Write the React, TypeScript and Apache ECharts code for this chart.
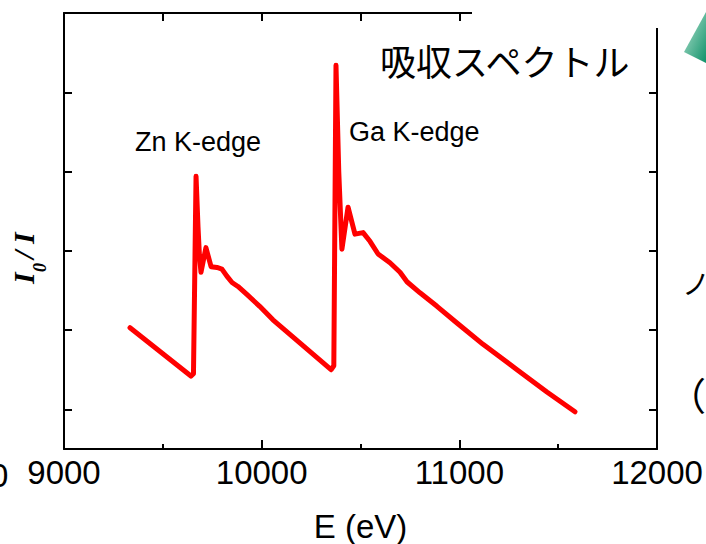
import React, { useEffect, useRef } from "react";
import * as echarts from "echarts";

// X-ray absorption spectrum (Zn K-edge and Ga K-edge)
const energy = [
  9334, 9642, 9655, 9668, 9678, 9685, 9693, 9718, 9744, 9774, 9799, 9824, 9850, 9880, 9925,
  9990, 10057, 10351, 10365, 10376, 10390, 10406, 10437, 10472, 10513, 10548, 10589, 10649,
  10700, 10735, 10801, 10887, 10988, 11120, 11292, 11443, 11585,
];
const intensity = [
  2.03, 1.42, 1.45, 3.94, 3.3, 2.95, 2.73, 3.04, 2.8, 2.79, 2.77, 2.68, 2.6, 2.55, 2.45,
  2.3, 2.13, 1.5, 1.55, 5.34, 4.0, 3.02, 3.55, 3.21, 3.23, 3.12, 2.96, 2.85,
  2.73, 2.61, 2.47, 2.3, 2.09, 1.82, 1.5, 1.22, 0.97,
];
const xTicks = [9000, 10000, 11000, 12000];
const yTickValues = [1, 2, 3, 4, 5];
const annotations = ["Zn K-edge", "Ga K-edge"];
const titleText = "吸収スペクトル";
const xName = "E (eV)";

export default function App() {
  const ref = useRef<HTMLDivElement>(null);
  useEffect(() => {
    if (!ref.current) return;
    const chart = echarts.init(ref.current, null, { renderer: "svg" });
    const font = "Liberation Sans, Arial, sans-serif";
    const cjk = "Noto Sans CJK JP";
    const serif = "Liberation Serif, Times New Roman, serif";
    const data = energy.map((e, i) => [e, intensity[i]]);
    const black = { color: "#000", width: 2 };
    chart.setOption({
      animation: false,
      backgroundColor: "#ffffff",
      grid: { left: 64, right: 49, top: 13, bottom: 95, containLabel: false, outerBoundsMode: "none" },
      xAxis: [
        {
          type: "value",
          min: xTicks[0],
          max: xTicks[xTicks.length - 1],
          interval: 1000,
          position: "bottom",
          name: xName,
          nameLocation: "middle",
          nameGap: 61,
          nameTextStyle: { fontSize: 33, color: "#000", fontFamily: font },
          axisLine: { show: true, onZero: false, lineStyle: black },
          axisTick: { show: true, inside: true, length: 9, lineStyle: black },
          minorTick: { show: true, splitNumber: 2, length: 5, lineStyle: black },
          axisLabel: { fontSize: 33, color: "#000", fontFamily: font, margin: 7, formatter: (v: number) => String(v) },
          splitLine: { show: false },
        },
        {
          type: "value",
          min: xTicks[0],
          max: xTicks[xTicks.length - 1],
          interval: 500,
          position: "top",
          axisLine: { show: true, onZero: false, lineStyle: black },
          axisTick: { show: true, inside: true, length: 8, lineStyle: black },
          axisLabel: { show: false },
          splitLine: { show: false },
        },
      ],
      yAxis: [
        {
          type: "value",
          min: 0.5,
          max: 6,
          position: "left",
          axisLine: { show: true, onZero: false, lineStyle: black },
          axisTick: { show: true, inside: true, length: 8, customValues: yTickValues, lineStyle: black },
          axisLabel: { show: false, customValues: yTickValues },
          splitLine: { show: false },
        },
        {
          type: "value",
          min: 0.5,
          max: 6,
          position: "right",
          axisLine: { show: true, onZero: false, lineStyle: black },
          axisTick: { show: true, inside: true, length: 8, customValues: yTickValues, lineStyle: black },
          axisLabel: { show: false, customValues: yTickValues },
          splitLine: { show: false },
        },
      ],
      series: [
        {
          type: "line",
          data,
          showSymbol: false,
          symbol: "none",
          lineStyle: { color: "#ff0000", width: 5, join: "round", cap: "round" },
          z: 3,
        },
      ],
      graphic: [
        { type: "rect", shape: { x: 472, y: 0, width: 240, height: 28 }, style: { fill: "#ffffff" }, z: 50 },
        {
          type: "polygon",
          shape: { points: [[684, 52], [706, 12], [706, 63]] },
          style: {
            fill: new echarts.graphic.LinearGradient(0, 0, 1, 1, [
              { offset: 0, color: "#b5e2cf" },
              { offset: 1, color: "#10926a" },
            ]),
          },
          z: 60,
        },
        {
          type: "text",
          x: 380,
          y: 60,
          style: { text: titleText, fontSize: 36, fontFamily: cjk, fill: "#000", align: "left", verticalAlign: "middle" },
          z: 60,
        },
        {
          type: "text",
          x: 135,
          y: 142,
          style: { text: annotations[0], fontSize: 27, fontFamily: font, fill: "#000", align: "left", verticalAlign: "middle" },
          z: 60,
        },
        {
          type: "text",
          x: 349,
          y: 132,
          style: { text: annotations[1], fontSize: 27, fontFamily: font, fill: "#000", align: "left", verticalAlign: "middle" },
          z: 60,
        },
        {
          type: "group",
          x: 33,
          y: 284,
          rotation: Math.PI / 2,
          z: 60,
          children: [
            { type: "text", x: 0, y: -10, style: { text: "I", fontSize: 30, fontFamily: serif, fontWeight: "bold", fontStyle: "italic", fill: "#000", verticalAlign: "middle", align: "left" } },
            { type: "text", x: 12, y: 7, style: { text: "0", fontSize: 18, fontFamily: serif, fontWeight: "bold", fontStyle: "italic", fill: "#000", verticalAlign: "middle", align: "left" } },
            { type: "text", x: 25, y: -10, style: { text: "/", fontSize: 30, fontFamily: serif, fontWeight: "bold", fontStyle: "italic", fill: "#000", verticalAlign: "middle", align: "left" } },
            { type: "text", x: 40, y: -10, style: { text: "I", fontSize: 30, fontFamily: serif, fontWeight: "bold", fontStyle: "italic", fill: "#000", verticalAlign: "middle", align: "left" } },
          ],
        },
        {
          type: "text",
          x: -10,
          y: 475,
          style: { text: "0", fontSize: 33, fontFamily: font, fill: "#000", align: "left", verticalAlign: "middle" },
          z: 60,
        },
        {
          type: "text",
          x: 682,
          y: 269,
          style: { text: "ノ", fontSize: 28, fontFamily: cjk, fill: "#000", align: "left", verticalAlign: "top" },
          z: 60,
        },
        {
          type: "text",
          x: 668,
          y: 393,
          style: { text: "（", fontSize: 38, fontFamily: cjk, fill: "#000", align: "left", verticalAlign: "middle" },
          z: 60,
        },
      ],
    });
    return () => chart.dispose();
  }, []);
  return (
    <div
      ref={ref}
      style={{ position: "fixed", left: 0, top: 0, width: 706, height: 544, background: "#fff" }}
    />
  );
}
